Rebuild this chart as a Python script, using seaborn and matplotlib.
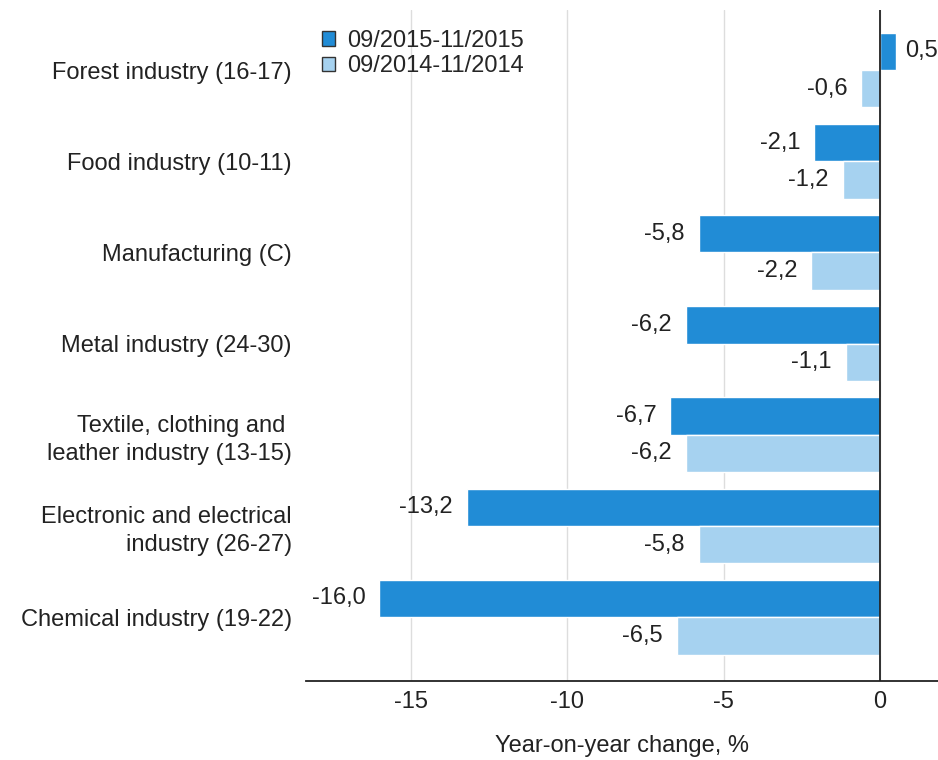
import pandas as pd
import matplotlib.pyplot as plt
import seaborn as sns

CATEGORIES = [
    "Forest industry (16-17)",
    "Food industry (10-11)",
    "Manufacturing (C)",
    "Metal industry (24-30)",
    "Textile, clothing and \nleather industry (13-15)",
    "Electronic and electrical\nindustry (26-27)",
    "Chemical industry (19-22)",
]
SERIES = ["09/2015-11/2015", "09/2014-11/2014"]
VALUES_2015 = [0.5, -2.1, -5.8, -6.2, -6.7, -13.2, -16.0]
VALUES_2014 = [-0.6, -1.2, -2.2, -1.1, -6.2, -5.8, -6.5]
X_TICKS = [-15, -10, -5, 0]

COLORS = ["#218cd6", "#a6d2f0"]
FS = 17


def build_frame():
    rows = []
    for series, vals in zip(SERIES, [VALUES_2015, VALUES_2014]):
        for cat, v in zip(CATEGORIES, vals):
            rows.append({"category": cat, "series": series, "value": v})
    return pd.DataFrame(rows)


def fmt(v):
    return f"{v:.1f}".replace(".", ",")


if __name__ == "__main__":
    sns.set_style("white")
    plt.rcParams["font.family"] = ["Liberation Sans", "DejaVu Sans"]
    plt.rcParams["font.size"] = FS

    df = build_frame()
    fig = plt.figure(figsize=(9.38, 7.6), dpi=100)
    ax = fig.add_axes([0.326, 0.104, 0.674, 0.883])

    sns.barplot(data=df, y="category", x="value", hue="series",
                hue_order=SERIES, order=CATEGORIES, palette=COLORS,
                orient="h", width=0.82, saturation=1, ax=ax)

    for container in ax.containers:
        labels = [fmt(v) for v in container.datavalues]
        for bar, lab, v in zip(container, labels, container.datavalues):
            y = bar.get_y() + bar.get_height() / 2
            if v >= 0:
                ax.text(v + 0.3, y, lab, ha="left", va="center",
                        fontsize=FS, color="#222222")
            else:
                ax.text(v - 0.45, y, lab, ha="right", va="center",
                        fontsize=FS, color="#222222")

    ax.set_xlim(-18.35, 1.85)
    ax.set_ylim(6.70, -0.66)
    ax.set_xticks(X_TICKS)
    ax.set_xticklabels([str(t) for t in X_TICKS])
    ax.xaxis.grid(True, color="#dddddd", linewidth=1)
    ax.set_axisbelow(True)
    ax.axvline(0, color="#222222", linewidth=1.3, zorder=3)

    for side in ["left", "right", "top"]:
        ax.spines[side].set_visible(False)
    ax.spines["bottom"].set_color("#222222")
    ax.spines["bottom"].set_linewidth(1.3)
    ax.tick_params(axis="both", length=0, labelsize=FS, colors="#222222")
    ax.tick_params(axis="x", pad=7)
    ax.tick_params(axis="y", pad=10)
    for lab in ax.get_yticklabels():
        lab.set_linespacing(1.35)

    ax.set_ylabel("")
    ax.set_xlabel("Year-on-year change, %", fontsize=FS, labelpad=16,
                  color="#222222")

    leg = ax.legend(loc="upper left", bbox_to_anchor=(0.0, 0.995), frameon=False,
                    fontsize=FS, handlelength=0.55, handleheight=0.55,
                    handletextpad=0.5, labelspacing=0.15, borderaxespad=0.3)
    for h in leg.legend_handles:
        h.set_edgecolor("#333333")
        h.set_linewidth(1)

    fig.savefig("out.png", dpi=100)
